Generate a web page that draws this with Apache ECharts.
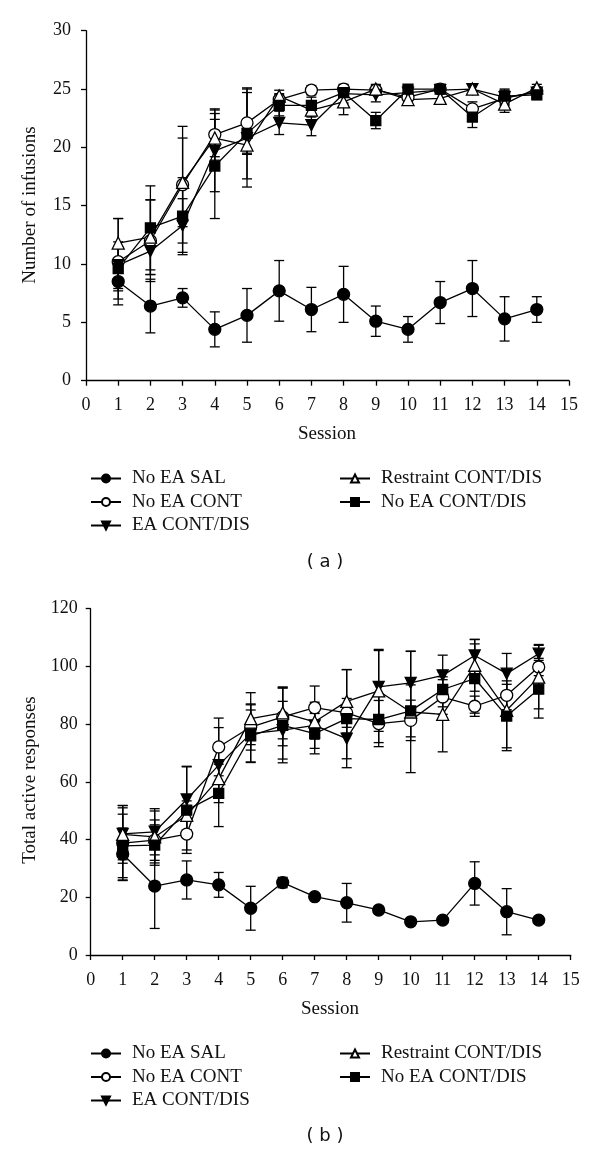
<!DOCTYPE html>
<html>
<head>
<meta charset="utf-8">
<script src="https://cdn.jsdelivr.net/npm/echarts@6/dist/echarts.min.js"></script>
<style>
  html, body { margin: 0; padding: 0; background: #fff; }
  #chart { width: 600px; height: 1151px; }
</style>
</head>
<body>
<div id="chart"></div>
<script>
// ---------- DATA ----------
const sessions = [1, 2, 3, 4, 5, 6, 7, 8, 9, 10, 11, 12, 13, 14];
const seriesNames = ['No EA SAL', 'No EA CONT', 'EA CONT/DIS', 'Restraint CONT/DIS', 'No EA CONT/DIS'];

// (a) Number of infusions
const a_noEaSal      = [8.5, 6.4, 7.1, 4.4, 5.6, 7.7, 6.1, 7.4, 5.1, 4.4, 6.7, 7.9, 5.3, 6.1];
const a_noEaSalErr   = [1.5, 2.3, 0.8, 1.5, 2.3, 2.6, 1.9, 2.4, 1.3, 1.1, 1.8, 2.4, 1.9, 1.1];
const a_noEaCont     = [10.2, 12.0, 16.8, 21.1, 22.1, 24.1, 24.9, 25.0, 24.9, 24.3, 25.0, 23.3, 24.2, 24.8];
const a_noEaContErr  = [3.7, 3.5, 5.0, 2.2, 2.6, 0.5, 0.4, 0.3, 0.4, 0.6, 0.3, 0.6, 0.6, 0.3];
const a_eaContDis    = [9.9, 11.1, 13.3, 19.7, 20.8, 22.1, 21.9, 24.6, 24.5, 24.7, 24.9, 25.0, 24.3, 24.7];
const a_eaContDisErr = [2.0, 2.0, 2.3, 3.5, 4.2, 1.0, 0.9, 0.8, 0.6, 0.5, 0.3, 0.4, 0.6, 0.4];
const a_restraint    = [11.8, 12.3, 17.0, 20.8, 20.2, 24.4, 23.2, 23.9, 25.0, 24.1, 24.2, 25.0, 23.7, 25.1];
const a_restraintErr = [2.1, 3.2, 3.8, 1.6, 0.8, 0.5, 0.6, 1.1, 0.4, 0.5, 0.5, 0.4, 0.7, 0.3];
const a_noEaContDis  = [9.6, 13.1, 14.1, 18.4, 21.2, 23.6, 23.6, 24.7, 22.3, 25.0, 25.0, 22.6, 24.4, 24.5];
const a_noEaContDisErr = [1.9, 3.6, 3.3, 4.5, 3.9, 0.9, 0.7, 0.3, 0.7, 0.3, 0.3, 0.9, 0.6, 0.4];

// (b) Total active responses
const b_noEaSal      = [35.0, 23.9, 26.0, 24.3, 16.2, 25.1, 20.2, 18.1, 15.6, 11.5, 12.1, 24.8, 15.0, 12.1];
const b_noEaSalErr   = [9.0, 14.7, 6.6, 4.3, 7.6, 1.8, 1.0, 6.7, 1.0, 1.0, 1.0, 7.5, 8.0, 1.0];
const b_noEaCont     = [38.8, 39.8, 41.9, 72.1, 79.0, 82.5, 85.7, 83.9, 80.2, 81.3, 89.4, 86.2, 90.0, 99.8];
const b_noEaContErr  = [13, 7, 5.5, 10, 8, 10, 7.5, 5, 8, 7, 6, 3.5, 5, 3];
const b_eaContDis    = [42.0, 42.7, 53.9, 65.8, 76.7, 77.9, 79.6, 75.0, 92.9, 94.3, 96.9, 103.8, 97.5, 104.4];
const b_eaContDisErr = [9, 8, 11.5, 13, 10, 10, 8, 7, 13, 11, 7, 5.5, 7, 3.2];
const b_restraint    = [41.8, 40.9, 48.4, 61.1, 81.9, 83.9, 80.8, 87.9, 91.5, 84.2, 83.4, 100.4, 84.8, 96.3];
const b_restraintErr = [10, 9, 5, 5, 9, 9, 6, 11, 14, 21, 13, 9, 14, 11];
const b_noEaContDis  = [37.8, 38.1, 50.2, 56.0, 75.9, 79.6, 76.7, 81.9, 81.6, 84.6, 92.0, 95.8, 82.8, 92.1];
const b_noEaContDisErr = [11, 7, 15, 11.5, 9, 13, 7, 17, 8, 9, 6, 12, 11, 10];

// ---------- STYLE ----------
const SERIF = '"Liberation Serif", "DejaVu Serif", serif';
const SANS = '"DejaVu Sans", "Liberation Sans", sans-serif';
const INK = '#111';

const symbolDefs = {
  'No EA SAL':          { symbol: 'circle',   size: 12, fill: '#000', rotate: 0 },
  'No EA CONT':         { symbol: 'circle',   size: 12, fill: '#fff', rotate: 0 },
  'EA CONT/DIS':        { symbol: 'triangle', size: 11, fill: '#000', rotate: 180 },
  'Restraint CONT/DIS': { symbol: 'triangle', size: 12, fill: '#fff', rotate: 0 },
  'No EA CONT/DIS':     { symbol: 'rect',     size: 10, fill: '#000', rotate: 0 }
};

function errRender(params, api) {
  const x = api.value(0), v = api.value(1), e = api.value(2);
  const hi = api.coord([x, v + e]);
  const lo = api.coord([x, v - e]);
  const hw = 5;
  const st = { stroke: '#000', lineWidth: 1.3, fill: null };
  return {
    type: 'group',
    children: [
      { type: 'line', shape: { x1: hi[0], y1: hi[1], x2: lo[0], y2: lo[1] }, style: st },
      { type: 'line', shape: { x1: hi[0] - hw, y1: hi[1], x2: hi[0] + hw, y2: hi[1] }, style: st },
      { type: 'line', shape: { x1: lo[0] - hw, y1: lo[1], x2: lo[0] + hw, y2: lo[1] }, style: st }
    ]
  };
}

function makeSeries(panel, name, vals, errs) {
  const d = symbolDefs[name];
  const out = [];
  out.push({
    type: 'custom',
    name: name + ' err',
    xAxisIndex: panel, yAxisIndex: panel,
    renderItem: errRender,
    dimensions: ['x', 'y', 'e'],
    encode: { x: 0, y: 1 },
    data: sessions.map((s, i) => [s, vals[i], errs[i]]),
    z: 2,
    silent: true
  });
  out.push({
    type: 'line',
    name: name,
    xAxisIndex: panel, yAxisIndex: panel,
    data: sessions.map((s, i) => [s, vals[i]]),
    symbol: d.symbol,
    symbolSize: d.size,
    symbolRotate: d.rotate,
    showAllSymbol: true,
    lineStyle: { color: '#000', width: 1.3 },
    itemStyle: { color: d.fill, borderColor: '#000', borderWidth: 1.3 },
    z: 3,
    animation: false
  });
  return out;
}

const panelA = [
  [seriesNames[0], a_noEaSal, a_noEaSalErr],
  [seriesNames[1], a_noEaCont, a_noEaContErr],
  [seriesNames[2], a_eaContDis, a_eaContDisErr],
  [seriesNames[3], a_restraint, a_restraintErr],
  [seriesNames[4], a_noEaContDis, a_noEaContDisErr]
];
const panelB = [
  [seriesNames[0], b_noEaSal, b_noEaSalErr],
  [seriesNames[1], b_noEaCont, b_noEaContErr],
  [seriesNames[2], b_eaContDis, b_eaContDisErr],
  [seriesNames[3], b_restraint, b_restraintErr],
  [seriesNames[4], b_noEaContDis, b_noEaContDisErr]
];

let series = [];
panelA.forEach(p => { series = series.concat(makeSeries(0, p[0], p[1], p[2])); });
panelB.forEach(p => { series = series.concat(makeSeries(1, p[0], p[1], p[2])); });

function xAxisCfg(gridIndex) {
  return {
    type: 'value', gridIndex: gridIndex, min: 0, max: 15, interval: 1,
    axisLine: { lineStyle: { color: '#000', width: 1.3 } },
    axisTick: { show: true, length: 5, lineStyle: { color: '#000', width: 1.3 } },
    axisLabel: { color: INK, fontFamily: SERIF, fontSize: 18, margin: 16 },
    splitLine: { show: false }
  };
}
function yAxisCfg(gridIndex, max, interval, margin) {
  return {
    type: 'value', gridIndex: gridIndex, min: 0, max: max, interval: interval,
    axisLine: { show: true, lineStyle: { color: '#000', width: 1.3 } },
    axisTick: { show: true, length: 5, lineStyle: { color: '#000', width: 1.3 } },
    axisLabel: { color: INK, fontFamily: SERIF, fontSize: 18, margin: margin },
    splitLine: { show: false }
  };
}

function legendCfg(names, left, top) {
  return {
    data: names,
    left: left, top: top,
    orient: 'vertical',
    itemWidth: 30, itemHeight: 10, itemGap: 4.5,
    selectedMode: false,
    textStyle: { color: INK, fontFamily: SERIF, fontSize: 19, lineHeight: 19, padding: [0, 0, 0, 6] }
  };
}

const option = {
  animation: false,
  backgroundColor: '#fff',
  grid: [
    { left: 86, top: 30.7, width: 483, height: 350 },
    { left: 90.7, top: 608.7, width: 480, height: 346.3 }
  ],
  xAxis: [xAxisCfg(0), xAxisCfg(1)],
  yAxis: [yAxisCfg(0, 30, 5, 15), yAxisCfg(1, 120, 20, 13)],
  legend: [
    legendCfg(['No EA SAL', 'No EA CONT', 'EA CONT/DIS'], 85, 464),
    legendCfg(['Restraint CONT/DIS', 'No EA CONT/DIS'], 334, 464),
    legendCfg(['No EA SAL', 'No EA CONT', 'EA CONT/DIS'], 85, 1039),
    legendCfg(['Restraint CONT/DIS', 'No EA CONT/DIS'], 334, 1039)
  ],
  graphic: [
    { type: 'text', x: 30, y: 205, rotation: Math.PI / 2,
      style: { text: 'Number of infusions', fill: INK, font: '19px ' + SERIF, align: 'center', verticalAlign: 'middle' } },
    { type: 'text', x: 327, y: 434,
      style: { text: 'Session', fill: INK, font: '19px ' + SERIF, align: 'center', verticalAlign: 'middle' } },
    { type: 'text', x: 325, y: 562,
      style: { text: '( a )', fill: INK, font: '18px ' + SANS, align: 'center', verticalAlign: 'middle' } },
    { type: 'text', x: 30, y: 780, rotation: Math.PI / 2,
      style: { text: 'Total active responses', fill: INK, font: '19px ' + SERIF, align: 'center', verticalAlign: 'middle' } },
    { type: 'text', x: 330, y: 1009,
      style: { text: 'Session', fill: INK, font: '19px ' + SERIF, align: 'center', verticalAlign: 'middle' } },
    { type: 'text', x: 325, y: 1136,
      style: { text: '( b )', fill: INK, font: '18px ' + SANS, align: 'center', verticalAlign: 'middle' } }
  ],
  series: series
};

const chart = echarts.init(document.getElementById('chart'), null, { renderer: 'canvas' });
chart.setOption(option);
</script>
</body>
</html>
